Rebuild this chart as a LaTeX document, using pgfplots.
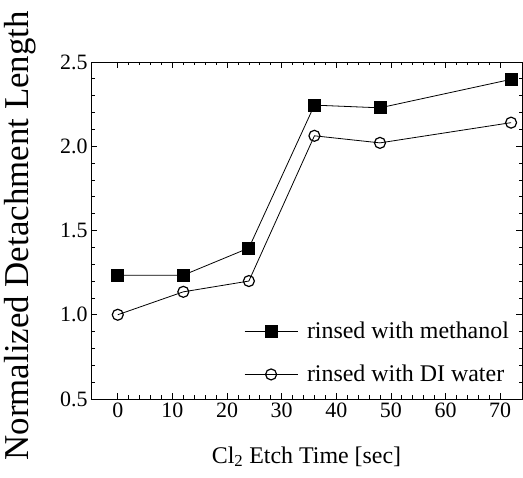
\documentclass[border=0pt]{standalone}
\usepackage{fontspec}
\setmainfont{Liberation Serif}
\usepackage{pgfplots}
\pgfplotsset{compat=1.18}
\begin{document}
\begin{tikzpicture}
\useasboundingbox (0,0) rectangle (523bp,478bp);
\begin{axis}[
  at={(91bp,79bp)}, anchor=south west,
  scale only axis, width=431bp, height=337bp,
  xmin=-4.9, xmax=74, ymin=0.5, ymax=2.5,
  xtick={0,10,20,30,40,50,60,70},
  ytick={0.5,1.0,1.5,2.0,2.5},
  minor x tick num=4, minor y tick num=4,
  tick align=inside,
  major tick length=6bp, minor tick length=3.5bp,
  axis line style={line width=0.8bp},
  every tick/.style={line width=0.7bp, black},
  /pgf/number format/assume math mode=true,
  yticklabel style={/pgf/number format/fixed, /pgf/number format/fixed zerofill, /pgf/number format/precision=1},
  tick label style={font=\fontsize{22}{26}\selectfont},
  xlabel={Cl\textsubscript{2} Etch Time [sec]},
  ylabel={Normalized Detachment Length},
  xlabel style={font=\fontsize{24}{28}\selectfont, at={(axis description cs:0.5,0)}, anchor=base, yshift=-64bp},
  ylabel style={font=\fontsize{35}{40}\selectfont, at={(axis description cs:-0.1647,0.484)}, anchor=center},
  legend cell align=left,
  legend style={draw=none, fill=none, at={(rel axis cs:0.355,0.24)}, anchor=north west,
    font=\fontsize{24}{28}\selectfont, row sep=17bp, inner sep=0bp,
    nodes={inner sep=4bp}},
  legend image code/.code={\draw[mark repeat=2,mark phase=2] plot coordinates {(0bp,0bp) (26.5bp,0bp) (53bp,0bp)};},
]
\addplot[black, line width=0.8bp, mark=square*, mark size=6bp, mark options={solid, fill=black}]
  coordinates {(0,1.235) (12,1.235) (24,1.396) (36,2.244) (48,2.228) (72,2.397)};
\addlegendentry{\hspace{5bp}rinsed with methanol}
\addplot[black, line width=0.8bp, mark=o, mark size=5.5bp, mark options={solid, line width=1.2bp, fill=white}]
  coordinates {(0,1.0) (12,1.136) (24,1.2) (36,2.062) (48,2.02) (72,2.14)};
\addlegendentry{\hspace{5bp}rinsed with DI water}
\end{axis}
\end{tikzpicture}
\end{document}
